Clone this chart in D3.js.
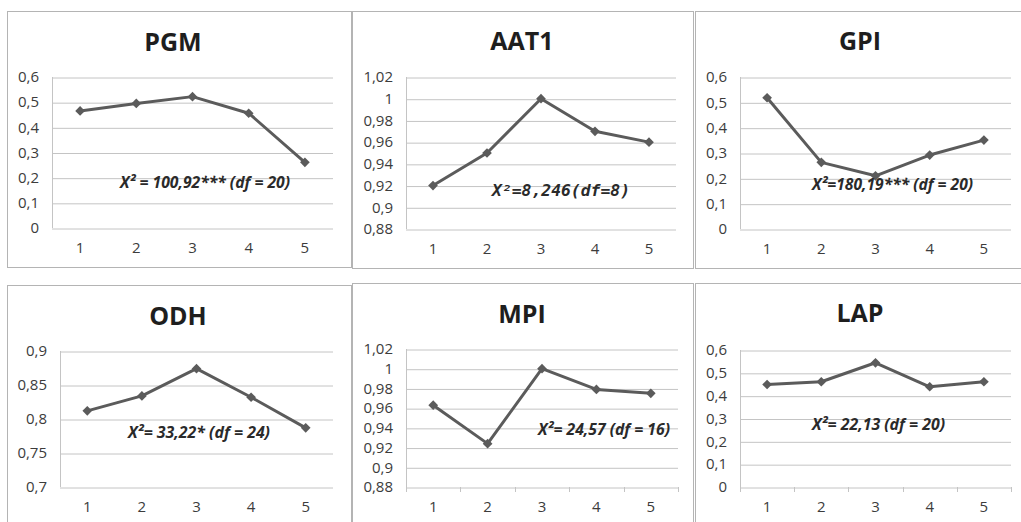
<!DOCTYPE html>
<html lang="en">
<head>
<meta charset="utf-8">
<style type="text/css">
    body { margin: 0; background: #fff; }
    .frame { fill: #fff; stroke: #b4b4b4; stroke-width: 1px; }
    .grid line { stroke: #c4c4c4; stroke-width: 1px; }
    .grid path { display: none; }
    .tick text { font-family: "Open Sans", sans-serif; font-size: 15px; fill: #3c3c3c; }
    .title { font-family: "Open Sans", sans-serif; font-weight: bold; font-size: 25px; fill: #1e1e1e; }
    .note { font-family: "Open Sans", sans-serif; font-weight: bold; font-style: italic; font-size: 16px; fill: #2a2a2a; }
    .note.mono { font-family: "DejaVu Sans Mono", monospace; font-size: 16px; }
    .series { fill: none; stroke: #5b5b5b; stroke-width: 3px; stroke-linejoin: round; }
    .marker { fill: #5b5b5b; }
</style>
</head>
<body>
<svg width="1021" height="522"></svg>

<script src="https://cdnjs.cloudflare.com/ajax/libs/d3/7.8.5/d3.min.js"></script>
<script type="text/javascript">
// data
var categories = [1, 2, 3, 4, 5];
var titles = ["PGM", "AAT1", "GPI", "ODH", "MPI", "LAP"];

var pgm  = [0.465, 0.495, 0.522, 0.456, 0.261];
var aat1 = [0.92, 0.95, 1.0, 0.97, 0.96];
var gpi  = [0.518, 0.263, 0.21, 0.292, 0.351];
var odh  = [0.812, 0.834, 0.874, 0.832, 0.787];
var mpi  = [0.963, 0.924, 1.0, 0.979, 0.975];
var lap  = [0.449, 0.461, 0.544, 0.439, 0.461];

var ticksA = [0, 0.1, 0.2, 0.3, 0.4, 0.5, 0.6];
var ticksB = [0.88, 0.9, 0.92, 0.94, 0.96, 0.98, 1, 1.02];
var ticksC = [0.7, 0.75, 0.8, 0.85, 0.9];

var notes = [
    "X\u00b2 = 100,92*** (df = 20)",
    "X\u00b2=8,246(df=8)",
    "X\u00b2=180,19*** (df = 20)",
    "X\u00b2= 33,22* (df = 24)",
    "X\u00b2= 24,57 (df = 16)",
    "X\u00b2= 22,13 (df = 20)"
];

var seriesList = [pgm, aat1, gpi, odh, mpi, lap];
var tickList = [ticksA, ticksB, ticksA, ticksC, ticksB, ticksA];

// layout of each panel (absolute px): frame, plot area, title, note
var layout = [
    {box: [7, 11, 344, 256], plot: [52, 77, 333, 228], tx: 173, ty: 51, nx: 120, ny: 188, nw: 170, xt: false},
    {box: [352, 11, 341, 257], plot: [406, 77, 676, 229], tx: 522, ty: 50, nx: 492, ny: 196, nw: 138, xt: false, mono: true},
    {box: [695, 11, 330, 257], plot: [740, 77, 1011, 229], tx: 860, ty: 50, nx: 812, ny: 190, nw: 161, xt: false},
    {box: [7, 285, 344, 250], plot: [60, 351, 333, 487], tx: 178, ty: 325, nx: 128, ny: 438, nw: 142, xt: false},
    {box: [352, 283, 341, 250], plot: [406, 349, 678, 487], tx: 522, ty: 323, nx: 538, ny: 435, nw: 132, xt: true},
    {box: [695, 283, 330, 250], plot: [740, 350, 1011, 487], tx: 860, ty: 322, nx: 812, ny: 430, nw: 133, xt: true}
];

var svg = d3.select("svg");

function fmt(v) {
    return String(+v.toFixed(2)).replace(".", ",");
}

layout.forEach(function(L, i) {
    var g = svg.append("g");
    var p = L.plot;
    var ticks = tickList[i];

    g.append("rect").attr("class", "frame")
        .attr("x", L.box[0] + 0.5).attr("y", L.box[1] + 0.5)
        .attr("width", L.box[2]).attr("height", L.box[3]);

    var x = d3.scaleBand().domain(categories).range([p[0], p[2]]);
    var y = d3.scaleLinear().domain(d3.extent(ticks)).range([p[3], p[1]]);

    // gridlines + y labels
    g.append("g").attr("class", "grid")
        .attr("transform", "translate(" + p[0] + ",0)")
        .call(d3.axisLeft(y).tickValues(ticks).tickSize(-(p[2] - p[0])).tickPadding(13).tickFormat(fmt))
        .call(function(s) { s.selectAll("line").attr("transform", "translate(0,0.5)"); });

    // y axis line
    g.append("line").attr("x1", p[0] + 0.5).attr("x2", p[0] + 0.5)
        .attr("y1", p[1]).attr("y2", p[3] + (L.xt ? 5 : 0))
        .attr("stroke", "#c4c4c4");

    // x axis labels (and boundary ticks on some panels)
    var xa = g.append("g").attr("class", "grid")
        .attr("transform", "translate(0," + (p[3] + 0.5) + ")")
        .call(d3.axisBottom(x).tickSize(0).tickPadding(14));
    xa.selectAll("text").attr("dy", "0.71em");

    if (L.xt) {
        g.selectAll(".bt").data(categories).enter().append("line")
            .attr("x1", function(d) { return Math.round(x(d) + x.bandwidth()) + 0.5; })
            .attr("x2", function(d) { return Math.round(x(d) + x.bandwidth()) + 0.5; })
            .attr("y1", p[3]).attr("y2", p[3] + 5)
            .attr("stroke", "#c4c4c4");
    }

    var vals = seriesList[i];
    var line = d3.line()
        .x(function(d, k) { return x(categories[k]) + x.bandwidth() / 2; })
        .y(function(d) { return y(d); });

    g.append("path").attr("class", "series").attr("d", line(vals));

    g.selectAll(".marker").data(vals).enter().append("path")
        .attr("class", "marker")
        .attr("d", d3.symbol().type(d3.symbolDiamond2).size(60))
        .attr("transform", function(d, k) {
            return "translate(" + (x(categories[k]) + x.bandwidth() / 2) + "," + y(d) + ")";
        });

    g.append("text").attr("class", "title")
        .attr("x", L.tx).attr("y", L.ty).attr("text-anchor", "middle")
        .text(titles[i]);

    g.append("text").attr("class", L.mono ? "note mono" : "note")
        .attr("x", L.nx).attr("y", L.ny)
        .attr("textLength", L.nw).attr("lengthAdjust", "spacingAndGlyphs")
        .text(notes[i]);
});
</script>
</body>
</html>
